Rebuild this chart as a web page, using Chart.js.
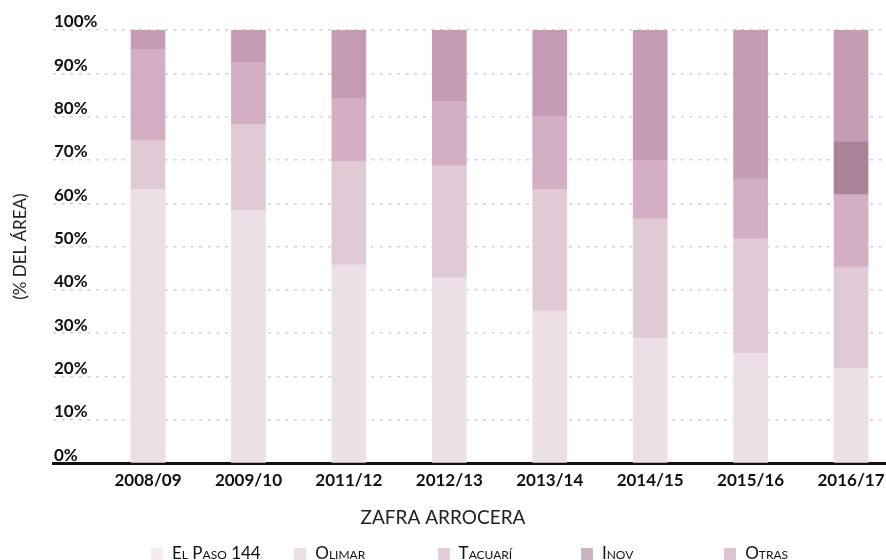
<!DOCTYPE html>
<html lang="es">
<head>
<meta charset="utf-8">
<title>Zafra arrocera - % del área por cultivar</title>
<script src="https://cdn.jsdelivr.net/npm/chart.js@4.4.1/dist/chart.umd.min.js"></script>
<style>
  html, body { margin: 0; padding: 0; background: #fff; }
  body { width: 886px; height: 560px; overflow: hidden; position: relative; font-family: Lato, "Noto Sans", sans-serif; }
  #wrap { position: absolute; left: 0; top: 0; width: 886px; height: 560px; }
  #legend .sw { position: absolute; top: 548px; width: 12px; height: 12px; opacity: 0.6; }
  #legend .lbl { position: absolute; top: 544px; font-size: 17px; line-height: 17px; font-variant: small-caps; color: #111; white-space: nowrap; }
</style>
</head>
<body>
<div id="wrap"><canvas id="areaChart"></canvas></div>
<div id="legend"></div>
<script>
// campaigns (x axis)
const categories = ["2008/09", "2009/10", "2011/12", "2012/13", "2013/14", "2014/15", "2015/16", "2016/17"];

// share of the rice area, % (stacked bottom -> top)
const elPaso144 = [63.2, 58.3, 45.8, 42.8, 35.1, 28.9, 25.4, 21.9];
const olimar    = [11.3, 19.9, 23.9, 25.9, 28.1, 27.5, 26.4, 23.4];
const tacuari   = [21.1, 14.4, 14.5, 14.9, 16.9, 13.5, 13.9, 16.7];
const inov      = [0, 0, 0, 0, 0, 0, 0, 12.1];
const otras     = [4.4, 7.4, 15.8, 16.4, 19.9, 30.1, 34.3, 25.9];

const seriesNames  = ["El Paso 144", "Olimar", "Tacuarí", "Inov", "Otras"];
const seriesValues = [elPaso144, olimar, tacuari, inov, otras];
const seriesColors = ["#ece0e6", "#e0cad6", "#d3aec4", "#aa8399", "#c69bb5"];

Chart.defaults.font.family = "Lato, 'Noto Sans', sans-serif";

const toPoints = (vals) => vals.map((v, i) => ({ x: i, y: v }));

const chart = new Chart(document.getElementById("areaChart"), {
  type: "bar",
  data: {
    datasets: seriesNames.map((name, i) => ({
      label: name,
      data: toPoints(seriesValues[i]),
      backgroundColor: seriesColors[i],
      borderWidth: 0,
      barThickness: 34
    }))
  },
  options: {
    responsive: true,
    maintainAspectRatio: false,
    animation: false,
    layout: { padding: { top: 30, right: 0, bottom: 31, left: 0 } },
    plugins: {
      legend: { display: false },
      tooltip: { enabled: false },
      title: {
        display: true,
        position: "bottom",
        text: "ZAFRA ARROCERA",
        color: "#222",
        font: { size: 19, weight: "normal" },
        padding: { top: 17, bottom: 0 }
      }
    },
    scales: {
      x: {
        type: "linear",
        stacked: true,
        offset: false,
        min: -0.946,
        max: 7.348,
        afterFit: (scale) => { scale.height = 26; },
        grid: { display: false, offset: false },
        border: { display: true, color: "#111", width: 3 },
        ticks: {
          stepSize: 1,
          includeBounds: false,
          autoSkip: false,
          maxRotation: 0,
          padding: -1,
          color: "#111",
          font: { size: 17, weight: "bold" },
          callback: (v) => categories[v] ?? ""
        }
      },
      y: {
        stacked: true,
        min: 0,
        max: 100,
        afterFit: (scale) => { scale.width = 53; },
        grid: { color: "#d2d2d2", lineWidth: 1.5, drawTicks: false },
        border: { display: false, dash: [3, 5.6] },
        ticks: {
          stepSize: 10,
          mirror: true,
          padding: 1,
          labelOffset: -8,
          color: "#111",
          font: { size: 17, weight: "bold" },
          callback: (v) => v + "%"
        },
        title: {
          display: true,
          text: "(% DEL ÁREA)",
          color: "#222",
          font: { size: 17, weight: "normal" },
          padding: { top: 10, bottom: 0 }
        }
      }
    }
  }
});

// legend below the chart, fixed spacing like the original
const legendHost = document.getElementById("legend");
chart.data.datasets.forEach((ds, i) => {
  const left = 151 + i * 143.3;
  const sw = document.createElement("div");
  sw.className = "sw";
  sw.style.left = left + "px";
  sw.style.background = ds.backgroundColor;
  const lbl = document.createElement("div");
  lbl.className = "lbl";
  lbl.style.left = (left + 21) + "px";
  lbl.textContent = ds.label;
  legendHost.appendChild(sw);
  legendHost.appendChild(lbl);
});
</script>
</body>
</html>
